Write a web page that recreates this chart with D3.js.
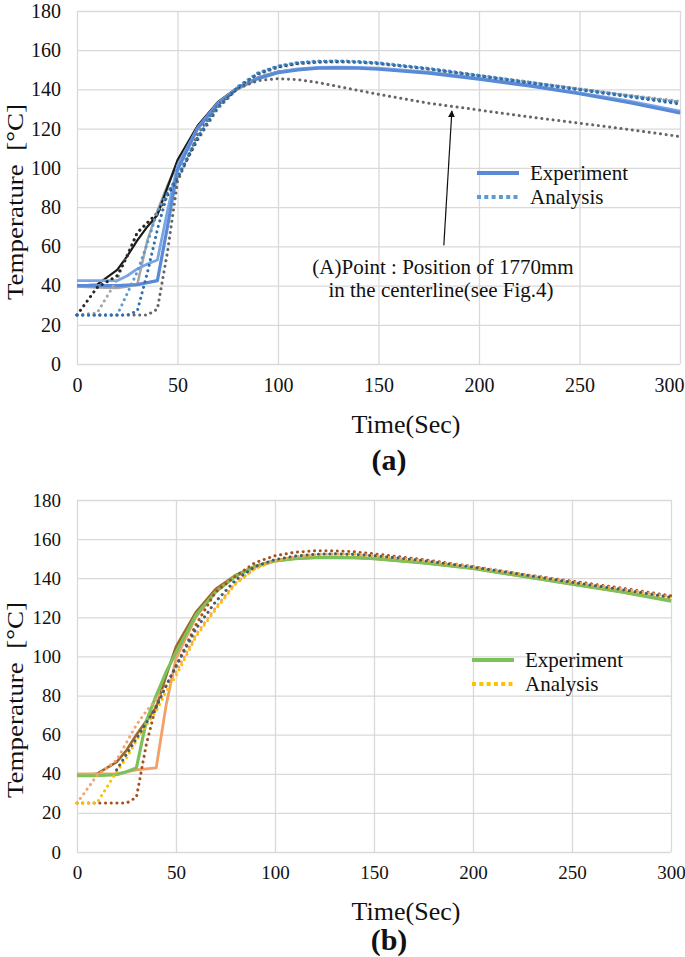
<!DOCTYPE html>
<html>
<head>
<meta charset="utf-8">
<script src="https://cdn.jsdelivr.net/npm/d3@7"></script>
<style>
  body { margin: 0; background: #fff; }
  svg text { font-family: "Liberation Serif", "Times New Roman", serif; fill: #111; }
  .grid line { stroke: #d9d9d9; stroke-width: 1.3; }
  .grid path { display: none; }
</style>
</head>
<body>
<div id="chart"></div>
<script>
// sample times (sec) shared by every series
const timeSec = [0,10,20,25,30,35,40,45,50,60,70,80,90,100,110,120,130,140,150,175,200,225,250,275,300];

// (a) experiment (solid)
const aExpBlack     = [40,40.5,48,55,63,70,76,90,104,121.5,133.5,141,146,149,150.3,151,151.2,151,150.5,148.5,145.5,142,138,133.5,128];
const aExpGray      = [39.5,39,38.8,39.5,40.5,63,78,91,102,121,133,141,146,149,150.3,151,151.2,151,150.5,148.5,145.5,142,138,133.5,128.5];
const aExpLightBlue = [42.5,42.5,42.5,45,48.5,51,53,78,101,120.5,133,141,146,149,150.5,151.2,151.4,151.2,150.8,148.8,145.8,142.3,138.3,134,129];
const aExpBlue      = [40,40,40,40.2,40.5,41.5,42.5,70,99,120,132.5,140.5,145.5,148.5,150,150.8,151,150.8,150.3,148.3,145.3,141.8,137.8,133.2,128];
// (a) analysis (dotted)
const aAnaBlack     = [25,39,45,55,67,72,77,86,95,115,131,141,148,151.5,153.3,154,154.2,154,153.3,150.5,147,143.5,140,136.5,133];
const aAnaGray      = [25,26,43,56,67,72,77,86,95,114,130,140.5,147.5,151.2,153,153.7,153.9,153.7,153,150.3,147,143.7,140.3,137,134];
const aAnaBlue      = [25,25,25,36,47,61.5,78,87,96,116,131.5,141.5,148.5,152,153.8,154.5,154.6,154.3,153.6,150.8,147.3,143.8,140.2,136.8,133.5];
const aAnaDarkBlue  = [25,25,25,25,27,46.5,68.5,87,95,115.5,131,141,148.2,151.8,153.5,154.2,154.4,154.1,153.4,150.5,147,143.3,139.8,136.2,132.5];
const aAnaPointA    = [25,25,25,25,25,25,28,57,93,117,132,140.5,144.5,145.5,145,143.5,141.5,139.5,137.5,133,129.5,126,122.8,119.5,116];

// (b) experiment (solid)
const bExpGreen  = [39,39,39.5,41,43,67,80,92,102,121,133,141,146,148.8,150,150.5,150.7,150.5,150,147.8,145,141,137,133,128.3];
const bExpBrown  = [39,40,46,52,60,67,74,90,105,122.5,134.5,141.5,146.2,149,150.2,150.6,150.8,150.6,150.1,147.9,145.1,141.2,137.2,133.2,128.5];
const bExpOrange = [40,40,40,41,42,42.5,43,75,99,120,133,141,146,148.8,150,150.5,150.6,150.4,150,147.8,145,141,137,133,128.5];
// (b) analysis (dotted); null = not visible at that time
const bAnaBrown  = [25,25,25,25,28,55,75,85,95,116,133,141,148,151.5,153.3,154,154,153.5,152.5,149.5,146,142,138.5,135,131];
const bAnaSlate  = [null,null,42,50,58,66,74,85,95,114,128,139,146,149.5,151.3,152.2,152.5,152.2,151.5,149,145.7,141.9,137.9,134.2,130.2];
const bAnaOrange = [25,39,47,56,65,72,78,85,92,111,125,137.5,145,149,151,152,152.5,152.3,151.5,149,145.8,142,138,134.5,130.5];
const bAnaYellow = [25,25,41,48,57,65,72,82,90,110,124,137,145,149,151,152,152.3,152,151.3,148.8,145.6,141.8,137.8,134,130];

// axis ticks
const xTicks = [0,50,100,150,200,250,300];
const yTicks = [0,20,40,60,80,100,120,140,160,180];

const svg = d3.select('#chart').append('svg')
    .attr('width', 685)
    .attr('height', 957);

//draw one panel: gridlines, tick labels, lines, legend
function drawPanel(cfg){
    const x = d3.scaleLinear().domain([0, 300]).range([cfg.left, cfg.right]);
    const y = d3.scaleLinear().domain([0, 180]).range([cfg.bottom, cfg.top]);
    const g = svg.append('g');

    //y gridlines + labels
    g.append('g')
        .attr('class', 'grid')
        .attr('transform', `translate(${cfg.left},0)`)
        .call(d3.axisLeft(y).tickValues(yTicks).tickSize(-(cfg.right - cfg.left)).tickPadding(16))
        .selectAll('text')
        .style('font-size', cfg.tickFont + 'px');

    //x gridlines + labels
    const xAxisG = g.append('g')
        .attr('class', 'grid')
        .attr('transform', `translate(0,${cfg.bottom})`)
        .call(d3.axisBottom(x).tickValues(xTicks).tickSize(-(cfg.bottom - cfg.top)).tickPadding(14));
    xAxisG.selectAll('text').style('font-size', cfg.tickFont + 'px');
    //last label sits against the right edge in panel (a)
    if (cfg.lastTickEnd) {
        xAxisG.selectAll('.tick:last-of-type text')
            .attr('text-anchor', 'end')
            .attr('x', cfg.lastTickEnd);
    }

    const line = d3.line()
        .defined(d => d !== null)
        .x((d, i) => x(timeSec[i]))
        .y(d => y(d));

    //solid experiment lines
    cfg.solid.forEach(s => {
        g.append('path')
            .datum(s.values)
            .attr('d', line)
            .attr('fill', 'none')
            .attr('stroke', s.color)
            .attr('stroke-width', s.width)
            .attr('stroke-linejoin', 'round');
    });

    //dotted analysis lines
    cfg.dotted.forEach(s => {
        g.append('path')
            .datum(s.values)
            .attr('d', line)
            .attr('fill', 'none')
            .attr('stroke', s.color)
            .attr('stroke-width', 3)
            .attr('stroke-linecap', 'round')
            .attr('stroke-dasharray', '0.1 5.6');
    });

    //axis titles (the y title is stretched along its length in the original)
    g.append('text')
        .attr('transform', `translate(23,${cfg.yLabelY}) rotate(-90)`)
        .attr('text-anchor', 'middle')
        .attr('textLength', 196)
        .attr('lengthAdjust', 'spacingAndGlyphs')
        .style('font-size', '24px')
        .text('Temperature\u00a0\u00a0[°C]');

    g.append('text')
        .attr('x', 406)
        .attr('y', cfg.xLabelY)
        .attr('text-anchor', 'middle')
        .style('font-size', '26px')
        .text('Time(Sec)');

    g.append('text')
        .attr('x', 389)
        .attr('y', cfg.tagY)
        .attr('text-anchor', 'middle')
        .style('font-size', '30px')
        .style('font-weight', 'bold')
        .text(cfg.tag);

    //legend
    const lg = g.append('g').attr('transform', `translate(${cfg.legendX},${cfg.legendY})`);
    lg.append('line')
        .attr('x1', 0).attr('x2', 42).attr('y1', 0).attr('y2', 0)
        .attr('stroke', cfg.legendSolid).attr('stroke-width', 4);
    lg.append('line')
        .attr('x1', 0).attr('x2', 42).attr('y1', 24).attr('y2', 24)
        .attr('stroke', cfg.legendDotted).attr('stroke-width', 4)
        .attr('stroke-dasharray', '4 3.3');
    lg.append('text').attr('x', 53).attr('y', 7).style('font-size', '21px').text('Experiment');
    lg.append('text').attr('x', 53).attr('y', 31).style('font-size', '21px').text('Analysis');

    return {x, y, g};
}

const panelA = drawPanel({
    left: 77, right: 680, top: 11, bottom: 364,
    tickFont: 20, yLabelY: 202, xLabelY: 433, tagY: 470, tag: '(a)',
    lastTickEnd: 4,
    legendX: 477, legendY: 173, legendSolid: '#5a8ad6', legendDotted: '#5b9bd5',
    solid: [
        {values: aExpGray, color: '#a6a6a6', width: 2.5},
        {values: aExpBlack, color: '#1a1a1a', width: 2.2},
        {values: aExpLightBlue, color: '#79a5e6', width: 2.8},
        {values: aExpBlue, color: '#5a8ad6', width: 3.2}
    ],
    dotted: [
        {values: aAnaPointA, color: '#666666'},
        {values: aAnaGray, color: '#a6a6a6'},
        {values: aAnaBlack, color: '#262626'},
        {values: aAnaBlue, color: '#5b9bd5'},
        {values: aAnaDarkBlue, color: '#2e6fb0'}
    ]
});

//annotation for point (A)
const arrowTail = {t: 182.5, temp: 60.5};
const arrowTip = {t: 186.5, temp: 129};
svg.append('defs').append('marker')
    .attr('id', 'arrowHead')
    .attr('viewBox', '0 0 10 10')
    .attr('refX', 9).attr('refY', 5)
    .attr('markerWidth', 7).attr('markerHeight', 8)
    .attr('markerUnits', 'userSpaceOnUse')
    .attr('orient', 'auto')
    .append('path')
    .attr('d', 'M0,0 L10,5 L0,10 Z')
    .attr('fill', '#111');
panelA.g.append('line')
    .attr('x1', panelA.x(arrowTail.t)).attr('y1', panelA.y(arrowTail.temp))
    .attr('x2', panelA.x(arrowTip.t)).attr('y2', panelA.y(arrowTip.temp))
    .attr('stroke', '#111').attr('stroke-width', 1.2)
    .attr('marker-end', 'url(#arrowHead)');
panelA.g.append('text')
    .attr('x', 443).attr('y', 274)
    .attr('text-anchor', 'middle')
    .style('font-size', '21px')
    .text('(A)Point : Position of 1770mm');
panelA.g.append('text')
    .attr('x', 441).attr('y', 297)
    .attr('text-anchor', 'middle')
    .style('font-size', '21px')
    .text('in the centerline(see Fig.4)');

drawPanel({
    left: 77, right: 671, top: 500, bottom: 852,
    tickFont: 19, yLabelY: 700, xLabelY: 920, tagY: 950, tag: '(b)',
    legendX: 472, legendY: 660, legendSolid: '#7cc15a', legendDotted: '#ffc000',
    solid: [
        {values: bExpBrown, color: '#a0662a', width: 2.6},
        {values: bExpOrange, color: '#f2a067', width: 2.8},
        {values: bExpGreen, color: '#7cc15a', width: 3.2}
    ],
    dotted: [
        {values: bAnaBrown, color: '#a4521c'},
        {values: bAnaOrange, color: '#f2a46e'},
        {values: bAnaYellow, color: '#ffc000'},
        {values: bAnaSlate, color: '#3f5f6e'}
    ]
});
</script>
</body>
</html>
